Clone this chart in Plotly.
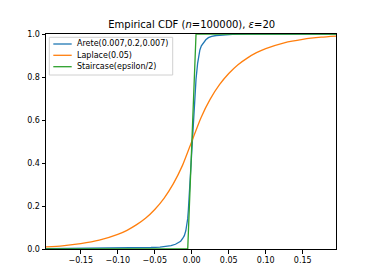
import plotly.graph_objects as go

# Arete(0.007,0.2,0.007) empirical CDF
arete_x = [-0.197, -0.15, -0.1, -0.07, -0.055, -0.043, -0.035, -0.028, -0.022, -0.018,
           -0.015, -0.012, -0.010, -0.008, -0.0065, -0.0055, -0.0046, -0.002, 0.0,
           0.002, 0.004, 0.0058, 0.008, 0.0095, 0.011, 0.013, 0.0157, 0.019, 0.0225,
           0.027, 0.033, 0.042, 0.055, 0.075, 0.1, 0.15, 0.195]
arete_y = [0.002, 0.003, 0.004, 0.005, 0.007, 0.009, 0.012, 0.016, 0.022, 0.028,
           0.036, 0.050, 0.062, 0.085, 0.110, 0.140, 0.180, 0.330, 0.490,
           0.610, 0.720, 0.790, 0.865, 0.900, 0.926, 0.945, 0.960, 0.973, 0.983,
           0.989, 0.993, 0.996, 0.998, 0.999, 0.9995, 1.0, 1.0]

# Laplace(0.05) empirical CDF
laplace_x = [-0.197, -0.175, -0.15, -0.125, -0.1, -0.0875, -0.075, -0.0625, -0.05,
             -0.0375, -0.025, -0.0125, 0.0, 0.0125, 0.025, 0.0375, 0.05, 0.0625,
             0.075, 0.0875, 0.1, 0.125, 0.15, 0.175, 0.195]
laplace_y = [0.010, 0.015, 0.025, 0.041, 0.068, 0.087, 0.112, 0.143, 0.184,
             0.236, 0.303, 0.389, 0.500, 0.611, 0.697, 0.764, 0.816, 0.857,
             0.888, 0.913, 0.932, 0.959, 0.975, 0.985, 0.990]

# Staircase(epsilon/2) empirical CDF
stair_x = [-0.197, -0.0054, 0.0058, 0.195]
stair_y = [0.0, 0.0, 1.0, 1.0]

series_names = ["Arete(0.007,0.2,0.007)", "Laplace(0.05)", "Staircase(epsilon/2)"]
series_colors = ["#1f77b4", "#ff7f0e", "#2ca02c"]

x_ticks = [-0.15, -0.10, -0.05, 0.00, 0.05, 0.10, 0.15]
y_ticks = [0.0, 0.2, 0.4, 0.6, 0.8, 1.0]

LW = 1.3

fig = go.Figure()
fig.add_trace(go.Scatter(x=arete_x, y=arete_y, mode="lines", name=series_names[0],
                         line=dict(color=series_colors[0], width=LW)))
fig.add_trace(go.Scatter(x=laplace_x, y=laplace_y, mode="lines", name=series_names[1],
                         line=dict(color=series_colors[1], width=LW, shape="spline", smoothing=0.6)))
fig.add_trace(go.Scatter(x=stair_x, y=stair_y, mode="lines", name=series_names[2],
                         line=dict(color=series_colors[2], width=LW)))

axis_common = dict(showgrid=False, zeroline=False, showline=True, linecolor="black",
                   linewidth=1, mirror=True, ticks="outside", ticklen=3.5, tickwidth=1,
                   tickcolor="black", tickfont=dict(family="DejaVu Sans", size=8, color="black"))

# Manual matplotlib-style legend (paper coordinates)
def px_to_paper_x(px):
    return (px - 46) / 290.0

def px_to_paper_y(py):
    return (249 - py) / 215.0

shapes = [dict(type="rect", xref="paper", yref="paper",
               x0=px_to_paper_x(49.3), x1=px_to_paper_x(172.7),
               y0=px_to_paper_y(75), y1=px_to_paper_y(37.3),
               line=dict(color="#d0d0d0", width=1), fillcolor="rgba(255,255,255,0.8)", layer="above")]
annotations = []
entry_py = [44, 55.3, 66.7]
for name, color, py in zip(series_names, series_colors, entry_py):
    shapes.append(dict(type="line", xref="paper", yref="paper",
                       x0=px_to_paper_x(53.3), x1=px_to_paper_x(71.7),
                       y0=px_to_paper_y(py), y1=px_to_paper_y(py),
                       line=dict(color=color, width=LW), layer="above"))
    annotations.append(dict(text=name, xref="paper", yref="paper",
                            x=px_to_paper_x(75), y=px_to_paper_y(py),
                            xanchor="left", yanchor="middle", showarrow=False,
                            font=dict(family="DejaVu Sans", size=8, color="black")))

fig.update_layout(
    width=374, height=280,
    margin=dict(l=38, r=46, t=26, b=39),
    paper_bgcolor="white", plot_bgcolor="white",
    font=dict(family="DejaVu Sans", color="black"),
    title=dict(text="Empirical CDF (<i>n</i>=100000), <i>ε</i>=20", x=183.7 / 374, xanchor="center",
               y=1 - 16 / 280, yanchor="middle", font=dict(size=10, color="black")),
    xaxis=dict(range=[-0.197, 0.195], tickvals=x_ticks, tickformat=".2f", **axis_common),
    yaxis=dict(range=[0, 1], tickvals=y_ticks, tickformat=".1f", **axis_common),
    shapes=shapes,
    annotations=annotations,
    showlegend=False,
)

fig.write_html("out.html")
